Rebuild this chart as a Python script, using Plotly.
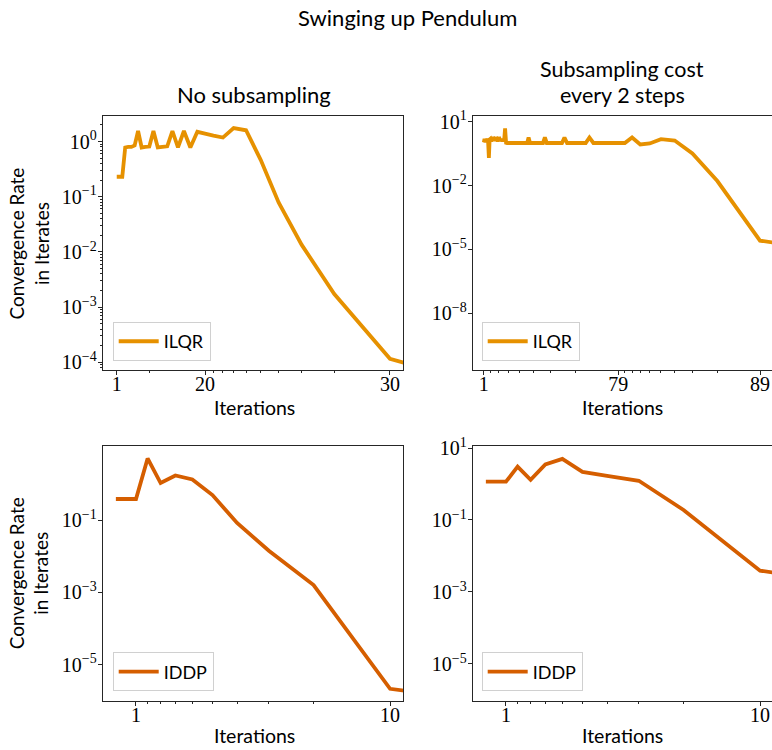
import numpy as np
import plotly.graph_objects as go

W, H = 772, 750

# ---------------- data ----------------
# x: iterations remaining before the final iterate (shown on a reversed log axis)
tl_u = [30, 29, 28, 27, 26, 25, 24, 23, 22, 21, 20, 19, 18, 17, 16, 15, 14, 13, 12, 11,
        10, 9, 8, 7, 6, 5, 4, 3, 2, 1, 0]
tl_rate = [0.23, 0.23, 0.23, 0.78, 0.80, 0.80, 0.85, 1.55, 0.78, 0.80, 0.81, 1.55, 0.78,
           0.80, 0.82, 1.55, 0.78, 1.55, 0.78, 1.50, 1.39, 1.28, 1.18, 1.75, 1.60, 0.465,
           0.079, 0.0134, 0.00173, 1.16e-4, 0.0]

tr_u = list(range(89, -1, -1))
tr_rate = [1.1, 1.6, 1.1, 1.6, 1.2, 1.6, 1.1, 0.2, 1.5, 1.6,
           1.2, 1.65, 1.6, 1.65, 1.3, 1.65, 1.6, 1.65, 1.2, 1.6,
           1.65, 1.3, 1.6, 1.2, 1.6, 1.3, 5.0, 1.05,
           1.02, 1.02, 1.02, 1.02, 1.02, 1.02, 1.02, 1.02, 1.02, 1.02,
           1.02, 1.02, 1.02, 1.02, 1.02, 1.02, 1.02, 1.02,
           1.85,
           1.02, 1.02, 1.02, 1.02, 1.02, 1.02, 1.02, 1.02, 1.02,
           1.85,
           1.02, 1.02, 1.02, 1.02, 1.02, 1.02, 1.02, 1.02,
           1.85,
           1.02, 1.02, 1.02, 1.02, 1.02, 1.02, 1.02,
           1.85,
           1.02, 1.02, 1.02, 1.02, 1.02, 1.02, 1.02,
           1.85, 0.87, 0.97, 1.53, 1.33, 0.33, 0.0165, 2.6e-5, 0.0]

bl_u = [12, 11, 10, 9, 8, 7, 6, 5, 4, 3, 2, 1, 0]
bl_rate = [0.39, 0.39, 0.39, 5.2, 1.08, 1.75, 1.36, 0.50, 0.0845, 0.0143, 0.0016, 2.13e-6, 0.0]

br_u = [12, 11, 10, 9, 8, 7, 6, 5, 4, 3, 2, 1, 0]
br_rate = [1.16, 1.16, 1.16, 3.03, 1.31, 3.5, 5.0, 2.17, 1.69, 1.23, 0.19, 0.0039, 0.0]

# tick positions (in x units) and their labels
tl_xticks, tl_xlabels = [30, 10, 1], ["1", "20", "30"]
tr_xticks, tr_xlabels = [89, 10, 1], ["1", "79", "89"]
b_xticks, b_xlabels = [10, 1], ["1", "10"]

tl_yexp = [0, -1, -2, -3, -4]
tr_yexp = [1, -2, -5, -8]
bl_yexp = [-1, -3, -5]
br_yexp = [1, -1, -3, -5]

ILQR_COLOR = "#E69100"
IDDP_COLOR = "#D55E00"
SANS = "Lato"
SERIF = "Liberation Serif"
AX_COLOR = "#262626"

# matplotlib clips non-positive values on log axes; emulate that
CLIP = 1e-100


def on_log(v):
    a = np.asarray(v, dtype=float)
    return np.where(a > 0, a, CLIP)


def exp_label(e):
    return "10<sup>" + (str(e) if e >= 0 else "\u2212" + str(-e)) + "</sup>"


fig = go.Figure()

panels = [
    ("x", "y", tl_u, tl_rate, "ILQR", ILQR_COLOR, "legend"),
    ("x2", "y2", tr_u, tr_rate, "ILQR", ILQR_COLOR, "legend2"),
    ("x3", "y3", bl_u, bl_rate, "IDDP", IDDP_COLOR, "legend3"),
    ("x4", "y4", br_u, br_rate, "IDDP", IDDP_COLOR, "legend4"),
]
for xa, ya, u, r, name, col, lg in panels:
    fig.add_trace(go.Scatter(
        x=on_log(u), y=on_log(r), mode="lines", name=name, xaxis=xa, yaxis=ya,
        line=dict(color=col, width=3.8, simplify=False), legend=lg, showlegend=True,
    ))

px_x = lambda p: p / W
px_y = lambda p: 1 - p / H

left_dom = [px_x(102.7), px_x(403.3)]
right_dom = [px_x(472.7), 1.0]
top_dom = [px_y(366.0), px_y(107.3)]
bot_dom = [px_y(703.3), px_y(443.3)]

tickfont = dict(family=SERIF, size=20, color="black")


def xaxis(domain, anchor, rng, ticks, labels, minor_vals, mirror=True):
    return dict(
        domain=domain, anchor=anchor, type="log", range=rng,
        tickmode="array", tickvals=ticks, ticktext=labels,
        ticks="outside", ticklen=4, tickwidth=1, tickcolor=AX_COLOR,
        showline=True, linecolor=AX_COLOR, linewidth=1, mirror=mirror,
        showgrid=False, tickfont=tickfont, ticklabelstandoff=-8,
        minor=dict(tickmode="array", tickvals=minor_vals, ticks="outside",
                   ticklen=2, tickwidth=0.8, tickcolor=AX_COLOR, showgrid=False),
    )


def yaxis(domain, anchor, rng, exps, minor_vals, mirror=True):
    return dict(
        domain=domain, anchor=anchor, type="log", range=rng,
        tickmode="array", tickvals=[10.0 ** e for e in exps],
        ticktext=[exp_label(e) for e in exps],
        ticks="outside", ticklen=4, tickwidth=1, tickcolor=AX_COLOR,
        showline=True, linecolor=AX_COLOR, linewidth=1, mirror=mirror,
        showgrid=False, tickfont=tickfont, ticklabelstandoff=-3,
        minor=dict(tickmode="array", tickvals=minor_vals, ticks="outside",
                   ticklen=2, tickwidth=0.8, tickcolor=AX_COLOR, showgrid=False),
    )


sub = [2, 3, 4, 5, 6, 7, 8, 9]
tl_xminor = sub + [20]
tr_xminor = sub + [20, 30, 40, 50, 60, 70, 80, 90]
b_xminor = sub
tl_yminor = [s * 10.0 ** e for e in range(-5, 1) for s in sub]

fig.update_layout(
    width=W, height=H, showlegend=True,
    margin=dict(l=0, r=0, t=0, b=0, pad=0),
    paper_bgcolor="white", plot_bgcolor="white",
    font=dict(family=SANS, color="black"),
    xaxis=xaxis(left_dom, "y", [1.553, -0.072], tl_xticks, tl_xlabels, tl_xminor),
    yaxis=yaxis(top_dom, "x", [-4.142, 0.457], tl_yexp, tl_yminor),
    xaxis2=xaxis(right_dom, "y2", [2.028, -0.0847], tr_xticks, tr_xlabels, tr_xminor),
    yaxis2=yaxis(top_dom, "x2", [-10.675, 1.263], tr_yexp, [], mirror=False),
    xaxis3=xaxis(left_dom, "y3", [1.131, -0.052], b_xticks, b_xlabels, b_xminor),
    yaxis3=yaxis(bot_dom, "x3", [-6.015, 1.06], bl_yexp, []),
    xaxis4=xaxis(right_dom, "y4", [1.131, -0.047], b_xticks, b_xlabels, b_xminor),
    yaxis4=yaxis(bot_dom, "x4", [-6.036, 1.055], br_yexp, [], mirror=False),
)

legend_style = dict(
    bgcolor="rgba(255,255,255,0.8)", bordercolor="#d0d0d0", borderwidth=1,
    font=dict(family=SANS, size=18, color="black"),
    xanchor="left", yanchor="bottom", itemwidth=40,
)
fig.update_layout(
    legend=dict(x=px_x(112.7), y=px_y(356.7), **legend_style),
    legend2=dict(x=px_x(481.7), y=px_y(356.7), **legend_style),
    legend3=dict(x=px_x(112.7), y=px_y(693.3), **legend_style),
    legend4=dict(x=px_x(481.7), y=px_y(693.3), **legend_style),
)

anns = [
    ("Swinging up Pendulum", 407, 7, 22, 0),
    ("No subsampling", 254, 85, 22, 0),
    ("Subsampling cost", 622, 59, 21.5, 0),
    ("every 2 steps", 622, 86, 21.5, 0),
    ("Iterations", 254, 404, 19.5, 0),
    ("Iterations", 622, 404, 19.5, 0),
    ("Iterations", 254, 738, 19.5, 0),
    ("Iterations", 622, 738, 19.5, 0),
    ("Convergence Rate<br>in Iterates", 29, 237, 19, -90),
    ("Convergence Rate<br>in Iterates", 29, 573, 19, -90),
]
for text, x, y, size, ang in anns:
    fig.add_annotation(
        text=text, x=px_x(x), y=px_y(y), xref="paper", yref="paper",
        xanchor="center", yanchor="middle", showarrow=False, textangle=ang,
        font=dict(family=SANS, size=size, color="black"),
    )

fig.write_html(
    "out.html",
    config={"displayModeBar": False},
    post_script="document.body.style.margin='0';document.body.style.overflow='hidden';",
)
